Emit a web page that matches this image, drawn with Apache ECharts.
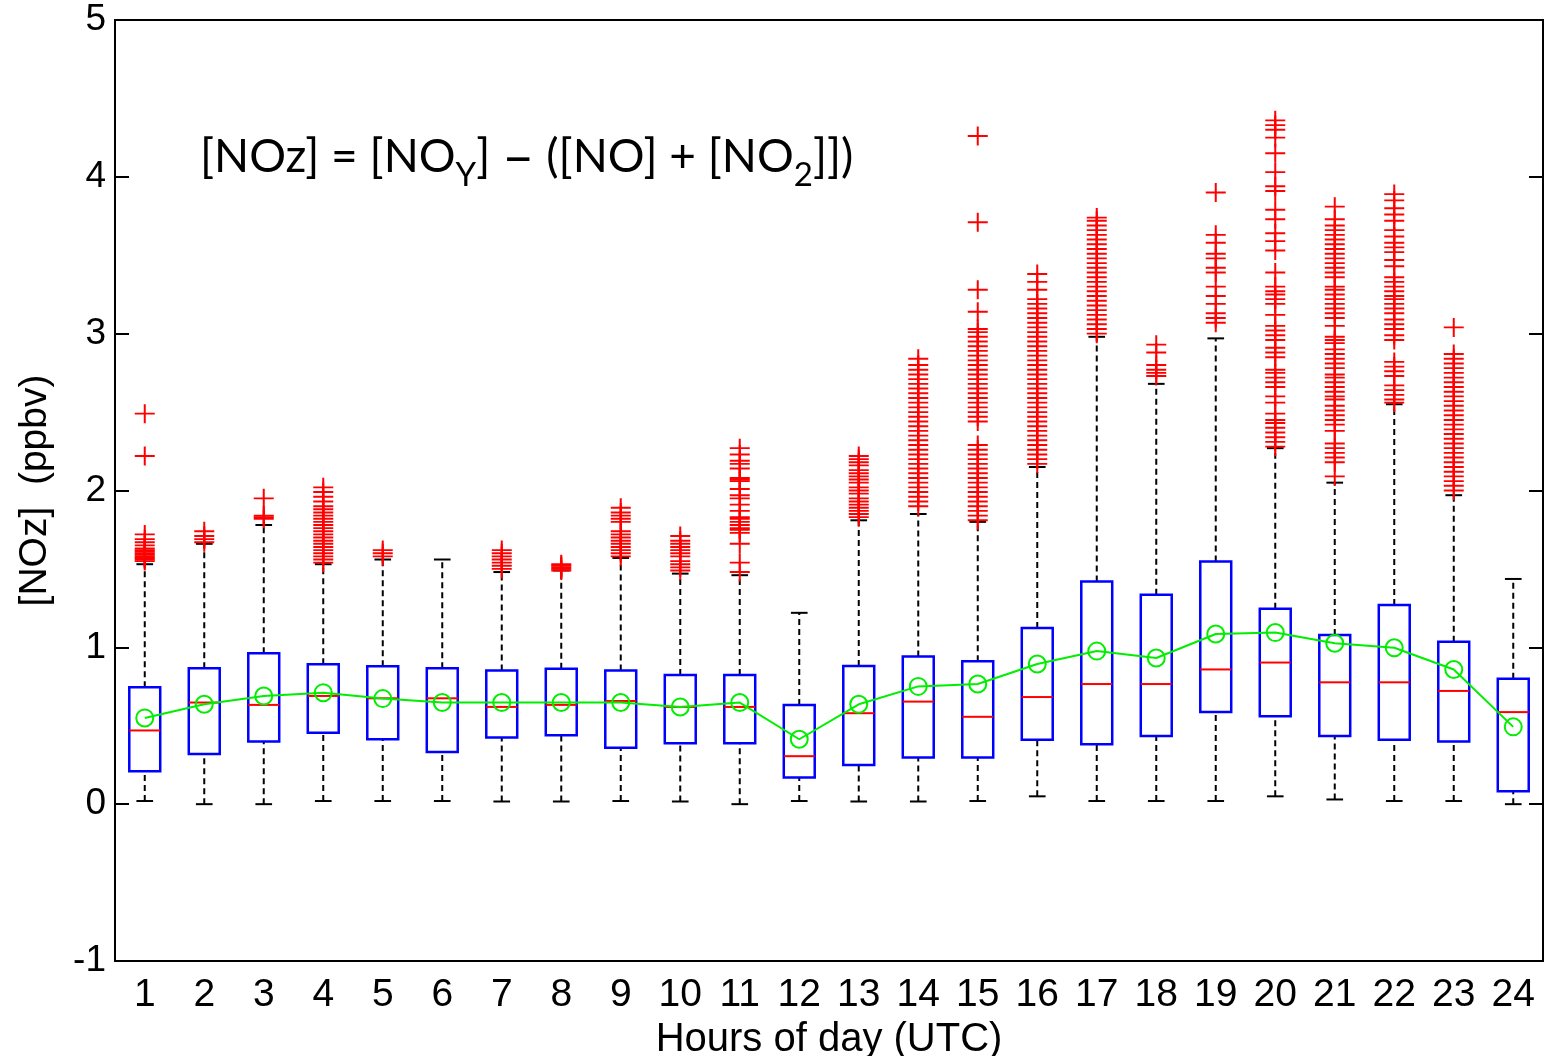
<!DOCTYPE html>
<html>
<head>
<meta charset="utf-8">
<script src="https://cdn.jsdelivr.net/npm/echarts@6/dist/echarts.min.js"></script>
<style>html,body{margin:0;padding:0;background:#fff}#c{width:1547px;height:1056px}</style>
</head>
<body>
<div id="c"></div>
<script>
const hours = ['1','2','3','4','5','6','7','8','9','10','11','12','13','14','15','16','17','18','19','20','21','22','23','24'];
const whiskerLow  = [0.02,0.00,0.00,0.02,0.02,0.02,0.017,0.017,0.02,0.017,0.00,0.02,0.017,0.017,0.02,0.05,0.02,0.02,0.02,0.05,0.03,0.02,0.02,0.00];
const q1          = [0.21,0.32,0.40,0.456,0.414,0.333,0.425,0.44,0.36,0.389,0.389,0.17,0.25,0.297,0.297,0.41,0.382,0.434,0.587,0.56,0.434,0.41,0.40,0.083];
const medians     = [0.47,0.648,0.633,0.69,0.675,0.675,0.62,0.633,0.658,0.62,0.62,0.306,0.58,0.654,0.557,0.683,0.766,0.766,0.859,0.903,0.777,0.777,0.722,0.587];
const q3          = [0.745,0.866,0.962,0.892,0.88,0.866,0.853,0.864,0.853,0.824,0.824,0.633,0.881,0.941,0.912,1.123,1.42,1.335,1.548,1.246,1.079,1.27,1.035,0.80];
const whiskerHigh = [1.53,1.66,1.78,1.53,1.56,1.56,1.48,1.49,1.57,1.47,1.46,1.22,1.81,1.85,1.80,2.15,2.98,2.68,2.97,2.27,2.05,2.55,1.97,1.436];
const means       = [0.55,0.637,0.69,0.711,0.673,0.648,0.648,0.648,0.648,0.62,0.648,0.414,0.637,0.751,0.766,0.894,0.976,0.932,1.085,1.094,1.026,0.997,0.859,0.493];
const outliers = [
  [1.55,1.56,1.57,1.58,1.59,1.60,1.61,1.62,1.63,1.65,1.67,1.69,1.72,2.22,2.49],
  [1.67,1.69,1.71,1.74],
  [1.82,1.83,1.84,1.95],
  [1.54,1.56,1.58,1.60,1.62,1.64,1.66,1.68,1.70,1.72,1.74,1.76,1.78,1.80,1.82,1.84,1.86,1.88,1.90,1.93,1.96,1.99,2.02],
  [1.58,1.60,1.62],
  [],
  [1.50,1.52,1.54,1.56,1.58,1.60,1.62],
  [1.49,1.50,1.51,1.52,1.53],
  [1.58,1.60,1.62,1.64,1.66,1.68,1.70,1.72,1.74,1.80,1.82,1.84,1.86,1.89],
  [1.49,1.51,1.53,1.55,1.58,1.60,1.62,1.64,1.66,1.68,1.71],
  [1.48,1.54,1.66,1.73,1.75,1.76,1.78,1.80,1.82,1.83,1.87,1.91,1.95,1.97,2.01,2.06,2.07,2.08,2.14,2.17,2.19,2.23,2.27],
  [],
  [1.83,1.85,1.87,1.89,1.91,1.93,1.95,1.98,2.00,2.02,2.05,2.07,2.09,2.11,2.13,2.16,2.18,2.20,2.22],
  [1.90,1.93,1.96,1.99,2.02,2.05,2.08,2.11,2.14,2.17,2.20,2.23,2.26,2.29,2.32,2.35,2.38,2.41,2.44,2.47,2.50,2.53,2.56,2.59,2.62,2.65,2.68,2.71,2.74,2.77,2.80,2.84],
  [1.81,1.84,1.87,1.90,1.93,1.96,1.99,2.02,2.05,2.08,2.11,2.14,2.17,2.20,2.23,2.26,2.29,2.44,2.47,2.50,2.53,2.56,2.59,2.62,2.65,2.68,2.71,2.74,2.77,2.80,2.83,2.86,2.89,2.92,2.95,2.98,3.01,3.03,3.14,3.28,3.71,4.26],
  [2.17,2.20,2.23,2.26,2.29,2.32,2.35,2.38,2.41,2.44,2.47,2.50,2.53,2.56,2.59,2.62,2.65,2.68,2.71,2.74,2.77,2.80,2.83,2.86,2.89,2.92,2.95,2.98,3.01,3.04,3.07,3.10,3.13,3.16,3.19,3.22,3.28,3.33,3.38],
  [3.00,3.03,3.06,3.09,3.12,3.15,3.18,3.21,3.24,3.27,3.30,3.33,3.36,3.39,3.42,3.45,3.48,3.51,3.54,3.57,3.60,3.63,3.66,3.69,3.72,3.74],
  [2.73,2.75,2.77,2.80,2.88,2.93],
  [3.07,3.10,3.13,3.19,3.24,3.30,3.39,3.42,3.48,3.51,3.58,3.63,3.90],
  [2.28,2.31,2.34,2.37,2.40,2.43,2.45,2.49,2.56,2.60,2.66,2.69,2.72,2.75,2.77,2.85,2.88,2.91,2.96,2.99,3.02,3.05,3.12,3.19,3.22,3.25,3.27,3.30,3.39,3.53,3.59,3.64,3.73,3.79,3.91,3.94,4.03,4.15,4.25,4.30,4.33,4.36],
  [2.09,2.18,2.21,2.24,2.27,2.30,2.38,2.42,2.45,2.48,2.51,2.54,2.58,2.60,2.63,2.66,2.69,2.72,2.74,2.78,2.81,2.84,2.87,2.90,2.94,2.96,2.98,3.05,3.10,3.13,3.16,3.19,3.22,3.25,3.28,3.30,3.36,3.39,3.42,3.45,3.48,3.51,3.54,3.57,3.60,3.63,3.66,3.69,3.73,3.81],
  [2.56,2.58,2.61,2.64,2.67,2.73,2.76,2.79,2.82,2.96,2.99,3.03,3.06,3.09,3.13,3.16,3.19,3.22,3.24,3.27,3.30,3.33,3.36,3.43,3.47,3.52,3.55,3.58,3.62,3.66,3.72,3.76,3.80,3.85,3.89],
  [2.00,2.03,2.06,2.09,2.12,2.15,2.18,2.21,2.24,2.27,2.30,2.33,2.36,2.39,2.42,2.45,2.48,2.51,2.54,2.57,2.60,2.63,2.66,2.69,2.72,2.75,2.78,2.81,2.84,2.87,3.04],
  []
];
const yTicks = [-1,0,1,2,3,4,5];
const annotationPieces = [
  {t: '[NOz] = [NO', k: 'main'},
  {t: 'Y', k: 'sub'},
  {t: '] ', k: 'main'},
  {t: '–', k: 'dash'},
  {t: ' ([NO] + [NO', k: 'main'},
  {t: '2', k: 'sub'},
  {t: ']])', k: 'main'}
];

const boxData = hours.map((h, i) => [i, whiskerLow[i], q1[i], medians[i], q3[i], whiskerHigh[i]]);
const outlierData = [];
outliers.forEach((arr, i) => arr.forEach(v => outlierData.push([i, v])));
const meanData = means.map((v, i) => [i, v]);

const FONT = 'Liberation Sans, Arial, sans-serif';
const ANN_FONT = 'Lato';
const annStyle = {main: {size: 46, y: 157.5}, dash: {size: 56, y: 157.5}, sub: {size: 33, y: 175}};
const measureCtx = document.createElement('canvas').getContext('2d');
let annX = 200;
const annGraphics = annotationPieces.map(p => {
  const st = annStyle[p.k];
  measureCtx.font = st.size + 'px ' + ANN_FONT;
  const g = {type: 'text', x: annX, y: st.y, z: 10, silent: true,
    style: {text: p.t, fontFamily: ANN_FONT, fontSize: st.size, fill: '#000', align: 'left', verticalAlign: 'middle'}};
  annX += measureCtx.measureText(p.t).width;
  return g;
});

const chart = echarts.init(document.getElementById('c'), null, {renderer: 'canvas'});
const plusPath = 'path://M9,0H11V9H20V11H11V20H9V11H0V9H9Z';

chart.setOption({
  animation: false,
  backgroundColor: '#ffffff',
  grid: {left: 115, top: 20, right: 4, bottom: 95, containLabel: false, outerBoundsMode: 'none',
    show: true, borderColor: '#000', borderWidth: 2, backgroundColor: 'transparent'},
  xAxis: {
    type: 'category', data: hours, boundaryGap: true,
    axisLine: {onZero: false, lineStyle: {color: '#000', width: 2}},
    axisTick: {show: false},
    axisLabel: {interval: 0, color: '#000', fontFamily: FONT, fontSize: 39, margin: 15},
    name: 'Hours of day (UTC)', nameLocation: 'middle', nameGap: 55,
    nameTextStyle: {color: '#000', fontFamily: FONT, fontSize: 40},
    splitLine: {show: false}
  },
  yAxis: [{
    type: 'value', min: -1, max: 5, interval: 1,
    axisLine: {show: true, lineStyle: {color: '#000', width: 2}},
    axisTick: {show: true, inside: true, length: 14, lineStyle: {color: '#000', width: 2}},
    axisLabel: {color: '#000', fontFamily: FONT, fontSize: 37, margin: 9,
      formatter: v => (yTicks.indexOf(v) >= 0 ? String(v) : '')},
    splitLine: {show: false},
    name: '[NOz]  (ppbv)', nameLocation: 'middle', nameGap: 60, nameRotate: 90,
    nameTextStyle: {color: '#000', fontFamily: FONT, fontSize: 39}
  }, {
    type: 'value', min: -1, max: 5, interval: 1, position: 'right',
    axisLine: {show: true, lineStyle: {color: '#000', width: 2}},
    axisTick: {show: true, inside: true, length: 14, lineStyle: {color: '#000', width: 2}},
    axisLabel: {show: false}, splitLine: {show: false}
  }],
  graphic: annGraphics,
  series: [{
    type: 'custom', z: 2,
    data: boxData,
    encode: {x: 0, y: [1, 2, 3, 4, 5]},
    renderItem: function (params, api) {
      const i = api.value(0);
      const x = api.coord([i, 0])[0];
      const band = api.size([1, 0])[0];
      const bw = band * 0.52, cw = band * 0.28;
      const yLo = api.coord([i, api.value(1)])[1];
      const yQ1 = api.coord([i, api.value(2)])[1];
      const yMed = api.coord([i, api.value(3)])[1];
      const yQ3 = api.coord([i, api.value(4)])[1];
      const yHi = api.coord([i, api.value(5)])[1];
      const dash = {stroke: '#000', lineWidth: 2, lineDash: [6, 4]};
      const solid = {stroke: '#000', lineWidth: 2};
      return {type: 'group', children: [
        {type: 'line', shape: {x1: x, y1: yQ3, x2: x, y2: yHi}, style: dash},
        {type: 'line', shape: {x1: x, y1: yLo, x2: x, y2: yQ1}, style: dash},
        {type: 'line', shape: {x1: x - cw / 2, y1: yHi, x2: x + cw / 2, y2: yHi}, style: solid},
        {type: 'line', shape: {x1: x - cw / 2, y1: yLo, x2: x + cw / 2, y2: yLo}, style: solid},
        {type: 'rect', shape: {x: x - bw / 2, y: yQ3, width: bw, height: yQ1 - yQ3}, style: {fill: 'none', stroke: '#0000ff', lineWidth: 2.5}},
        {type: 'line', shape: {x1: x - bw / 2, y1: yMed, x2: x + bw / 2, y2: yMed}, style: {stroke: '#ff0000', lineWidth: 2}}
      ]};
    }
  }, {
    type: 'scatter', z: 3,
    data: outlierData,
    symbol: plusPath, symbolSize: [20, 19],
    itemStyle: {color: '#ff0000', opacity: 1}
  }, {
    type: 'line', z: 4,
    data: meanData,
    symbol: 'circle', symbolSize: 17, showAllSymbol: true,
    lineStyle: {color: '#00ee00', width: 2},
    itemStyle: {color: 'rgba(0,0,0,0)', borderColor: '#00ee00', borderWidth: 2}
  }]
});
</script>
</body>
</html>
